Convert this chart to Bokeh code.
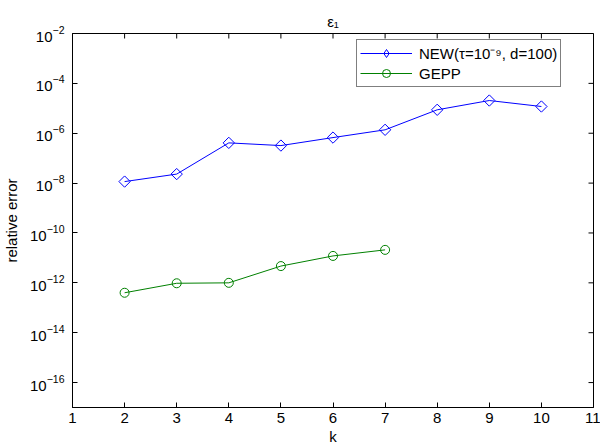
from bokeh.plotting import figure
from bokeh.models import (FixedTicker, Legend, LegendItem, Range1d, Title,
                          ColumnDataSource)
from bokeh.embed import file_html
from bokeh.resources import INLINE
import math

# ---- data ----
k_new = [2, 3, 4, 5, 6, 7, 8, 9, 10]
err_new = [1.15e-8, 2.3e-8, 4.1e-7, 3.2e-7, 6.7e-7, 1.37e-6, 8.7e-6, 2.05e-5, 1.18e-5]
k_gepp = [2, 3, 4, 5, 6, 7]
err_gepp = [4.0e-13, 9.6e-13, 1.0e-12, 4.7e-12, 1.2e-11, 2.1e-11]
x_ticks = [1, 2, 3, 4, 5, 6, 7, 8, 9, 10, 11]
y_ticks = [1e-16, 1e-14, 1e-12, 1e-10, 1e-8, 1e-6, 1e-4, 1e-2]
x_lim = [1, 11]
y_lim = [1e-17, 1e-2]
label_new = "NEW(τ=10⁻⁹, d=100)"
label_gepp = "GEPP"

FONT = "Liberation Sans"
FS = "15px"

p = figure(width=600, height=448, y_axis_type="log",
           x_range=Range1d(*x_lim), y_range=Range1d(*y_lim),
           output_backend="svg", toolbar_location=None,
           min_border_left=72, min_border_right=7,
           min_border_top=33, min_border_bottom=41)
p.background_fill_color = "white"
p.border_fill_color = "white"
p.grid.visible = False
p.outline_line_color = "black"
p.outline_line_width = 1
# off-screen range used only so the legend can show a diamond glyph
p.extra_x_ranges = {"legend_only": Range1d(1000, 2000)}

p.title = Title(text="ε₁", align="center", text_font=FONT,
                text_font_size=FS, text_font_style="normal",
                text_color="black", standoff=8)

for ax in (p.xaxis[0], p.yaxis[0]):
    ax.major_tick_in = 5
    ax.major_tick_out = 0
    ax.minor_tick_in = 0
    ax.minor_tick_out = 0
    ax.axis_line_color = "black"
    ax.major_label_text_font = FONT
    ax.major_label_text_font_size = FS
    ax.major_label_text_color = "black"
    ax.axis_label_text_font = FONT
    ax.axis_label_text_font_size = FS
    ax.axis_label_text_font_style = "normal"
    ax.axis_label_text_color = "black"

p.xaxis.ticker = FixedTicker(ticks=x_ticks)
p.yaxis.ticker = FixedTicker(ticks=y_ticks)
p.xaxis.axis_label = "k"
p.yaxis.axis_label = "relative error"
p.xaxis.major_label_standoff = 5
p.xaxis.axis_label_standoff = 2
p.yaxis.major_label_standoff = 8
p.yaxis.axis_label_standoff = 7

# mirrored inward ticks on the top and right edges (clipped to the frame)
p.scatter(x_ticks, [y_lim[1]] * len(x_ticks), marker="dash", angle=math.pi / 2,
          size=10, line_color="black", line_width=1)
p.scatter([x_lim[1]] * len(y_ticks), y_ticks, marker="dash",
          size=10, line_color="black", line_width=1)

blue = "#0000ff"
green = "#008000"
src_new = ColumnDataSource(dict(k=k_new, err=err_new))
l1 = p.line("k", "err", source=src_new, line_color=blue, line_width=1)
m1 = p.scatter("k", "err", source=src_new, marker="square", angle=math.pi / 4,
               size=8, line_color=blue, fill_color=None, line_width=1)
l2 = p.line(k_gepp, err_gepp, line_color=green, line_width=1)
m2 = p.scatter(k_gepp, err_gepp, marker="circle", size=9,
               line_color=green, fill_color=None, line_width=1)
# legend-only diamond glyph, mapped to an off-screen range
m1_leg = p.scatter("k", "err", source=src_new, x_range_name="legend_only",
                   marker="diamond", size=13,
                   line_color=blue, fill_color=None, line_width=1)

legend = Legend(items=[LegendItem(label=label_new, renderers=[l1, m1_leg]),
                       LegendItem(label=label_gepp, renderers=[l2, m2])],
                location=(284, 320),
                label_text_font=FONT, label_text_font_size=FS,
                label_text_color="black",
                glyph_width=52, glyph_height=20, label_height=20,
                label_standoff=7, spacing=0, padding=3, margin=0,
                border_line_color="black", border_line_width=1,
                background_fill_color="white", background_fill_alpha=1)
p.add_layout(legend)

open("out.html", "w").write(file_html(p, INLINE))
